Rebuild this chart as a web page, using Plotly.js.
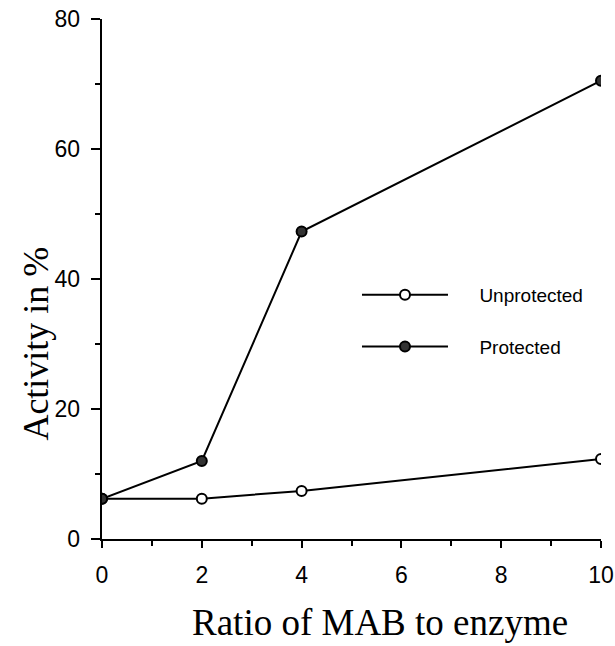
<!DOCTYPE html>
<html>
<head>
<meta charset="utf-8">
<script src="https://cdn.plot.ly/plotly-3.0.1.min.js"></script>
<style>body{margin:0;background:#fff}#chart{width:615px;height:646px}</style>
</head>
<body>
<div id="chart"></div>
<script>
const ratio = [0, 2, 4, 10];
const unprotected = [6.2, 6.2, 7.4, 12.3];
const protectedVals = [6.2, 12.0, 47.3, 70.5];
const xTicks = [0, 2, 4, 6, 8, 10];
const yTicks = [0, 20, 40, 60, 80];
const seriesNames = ['Unprotected', 'Protected'];

const pad = '\u00a0\u00a0\u00a0\u00a0\u00a0';
const traces = [
  {
    x: ratio, y: unprotected, name: pad + seriesNames[0], legendgroup: 'a', type: 'scatter', mode: 'lines+markers',
    line: {color: '#000', width: 2},
    marker: {symbol: 'circle', size: 10, color: '#fff', line: {color: '#000', width: 2}}
  },
  {
    x: ratio, y: protectedVals, name: pad + seriesNames[1], legendgroup: 'b', type: 'scatter', mode: 'lines+markers',
    line: {color: '#000', width: 2},
    marker: {symbol: 'circle', size: 10, color: '#333', line: {color: '#000', width: 2}}
  }
];

const layout = {
  width: 615, height: 646,
  margin: {l: 102, r: 14, t: 19, b: 107},
  paper_bgcolor: '#fff', plot_bgcolor: '#fff',
  showlegend: true,
  legend: {
    x: 0.511, y: 0.506, xanchor: 'left', yanchor: 'top',
    itemwidth: 86, tracegroupgap: 24, traceorder: 'grouped',
    font: {family: 'Liberation Sans, Arial, sans-serif', size: 19, color: '#000'},
    bgcolor: 'rgba(0,0,0,0)'
  },
  xaxis: {
    range: [0, 10], tickvals: xTicks, ticktext: xTicks.map(String),
    showline: true, linecolor: '#000', linewidth: 2,
    ticks: 'outside', ticklen: 7, tickwidth: 2, tickcolor: '#000',
    ticklabelstandoff: 7,
    minor: {dtick: 1, ticks: 'outside', ticklen: 5, tickwidth: 2, tickcolor: '#000'},
    showgrid: false, zeroline: false,
    tickfont: {family: 'Liberation Sans, Arial, sans-serif', size: 23, color: '#000'}
  },
  yaxis: {
    range: [0, 80], tickvals: yTicks, ticktext: yTicks.map(v => v + '\u00a0'),
    showline: true, linecolor: '#000', linewidth: 2,
    ticks: 'outside', ticklen: 9, tickwidth: 2, tickcolor: '#000',
    minor: {dtick: 10, ticks: 'outside', ticklen: 5, tickwidth: 2, tickcolor: '#000'},
    showgrid: false, zeroline: false,
    tickfont: {family: 'Liberation Sans, Arial, sans-serif', size: 23, color: '#000'}
  },
  annotations: [
    {
      text: 'Activity in %', textangle: -90, xref: 'paper', yref: 'paper',
      x: -0.132, y: 0.376, xanchor: 'center', yanchor: 'middle', showarrow: false,
      font: {family: 'Liberation Serif, Times New Roman, serif', size: 36, color: '#000'}
    },
    {
      text: 'Ratio of MAB to enzyme', xref: 'paper', yref: 'paper',
      x: 0.557, y: -0.160, xanchor: 'center', yanchor: 'middle', showarrow: false,
      font: {family: 'Liberation Serif, Times New Roman, serif', size: 37, color: '#000'}
    }
  ]
};

Plotly.newPlot('chart', traces, layout, {displayModeBar: false, staticPlot: true});
</script>
</body>
</html>
